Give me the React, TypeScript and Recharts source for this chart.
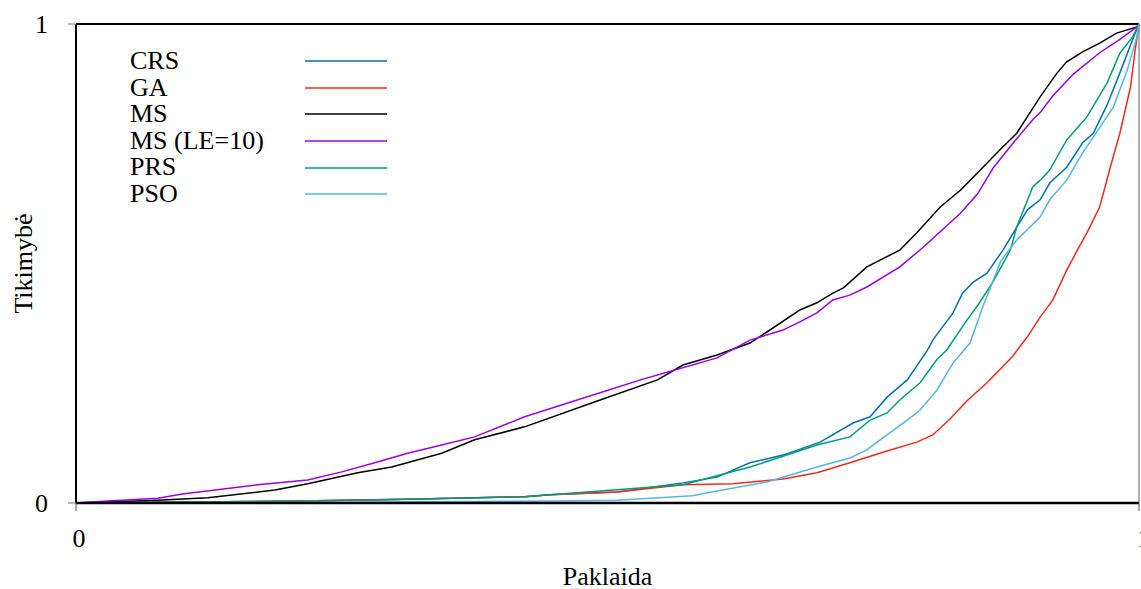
import { CartesianGrid, Label, Legend, Line, LineChart, ReferenceLine, XAxis, YAxis } from "recharts";

// empirical distribution of the error, [paklaida, tikimybe]
const crs: [number, number][] = [
  [0, 0], [0.1, 0.002], [0.211, 0.004], [0.312, 0.008], [0.422, 0.013], [0.446, 0.017], [0.509, 0.023],
  [0.571, 0.042], [0.603, 0.054], [0.634, 0.084], [0.665, 0.1], [0.7, 0.127], [0.731, 0.167], [0.747, 0.18],
  [0.763, 0.221], [0.782, 0.257], [0.801, 0.319], [0.806, 0.34], [0.825, 0.397], [0.834, 0.438], [0.844, 0.461],
  [0.857, 0.48], [0.872, 0.528], [0.895, 0.612], [0.907, 0.633], [0.916, 0.668], [0.932, 0.701], [0.947, 0.752],
  [0.957, 0.772], [0.97, 0.831], [0.982, 0.898], [0.994, 0.967], [1, 1],
];
const ga: [number, number][] = [
  [0, 0], [0.211, 0.004], [0.312, 0.008], [0.422, 0.013], [0.446, 0.017], [0.509, 0.023], [0.571, 0.038],
  [0.618, 0.04], [0.665, 0.05], [0.697, 0.063], [0.728, 0.084], [0.759, 0.106], [0.791, 0.127], [0.806, 0.142],
  [0.822, 0.175], [0.838, 0.213], [0.857, 0.251], [0.881, 0.306], [0.895, 0.347], [0.907, 0.388], [0.919, 0.424],
  [0.932, 0.486], [0.942, 0.528], [0.951, 0.564], [0.963, 0.618], [0.973, 0.701], [0.982, 0.772], [0.992, 0.868],
  [0.996, 0.939], [1, 1],
];
const ms: [number, number][] = [
  [0, 0], [0.077, 0.006], [0.124, 0.011], [0.187, 0.027], [0.218, 0.04], [0.265, 0.063], [0.297, 0.075],
  [0.344, 0.104], [0.375, 0.132], [0.422, 0.159], [0.493, 0.215], [0.547, 0.257], [0.571, 0.288], [0.603, 0.309],
  [0.634, 0.334], [0.65, 0.357], [0.681, 0.403], [0.697, 0.418], [0.712, 0.438], [0.722, 0.449], [0.744, 0.493],
  [0.775, 0.528], [0.791, 0.564], [0.813, 0.618], [0.832, 0.653], [0.848, 0.689], [0.869, 0.737], [0.885, 0.772],
  [0.907, 0.848], [0.923, 0.898], [0.932, 0.921], [0.947, 0.942], [0.963, 0.96], [0.979, 0.981], [0.998, 0.994],
  [1, 1],
];
const msLe10: [number, number][] = [
  [0, 0], [0.03, 0.004], [0.077, 0.01], [0.1, 0.019], [0.131, 0.027], [0.171, 0.038], [0.218, 0.048],
  [0.25, 0.065], [0.281, 0.084], [0.312, 0.104], [0.344, 0.121], [0.375, 0.138], [0.422, 0.18], [0.493, 0.23],
  [0.531, 0.257], [0.556, 0.273], [0.603, 0.303], [0.634, 0.34], [0.665, 0.361], [0.681, 0.378], [0.697, 0.397],
  [0.712, 0.424], [0.728, 0.434], [0.744, 0.451], [0.775, 0.493], [0.797, 0.534], [0.832, 0.605], [0.848, 0.645],
  [0.863, 0.7], [0.881, 0.75], [0.9, 0.8], [0.907, 0.815], [0.919, 0.85], [0.938, 0.895], [0.963, 0.94],
  [0.982, 0.968], [0.998, 0.994], [1, 1],
];
const prs: [number, number][] = [
  [0, 0], [0.1, 0.002], [0.211, 0.004], [0.312, 0.008], [0.422, 0.013], [0.446, 0.017], [0.571, 0.038],
  [0.634, 0.075], [0.697, 0.121], [0.728, 0.138], [0.747, 0.173], [0.763, 0.188], [0.775, 0.215], [0.794, 0.251],
  [0.81, 0.3], [0.819, 0.319], [0.836, 0.375], [0.85, 0.418], [0.863, 0.463], [0.879, 0.528], [0.885, 0.576],
  [0.9, 0.66], [0.907, 0.674], [0.916, 0.695], [0.932, 0.758], [0.951, 0.806], [0.97, 0.877], [0.982, 0.939],
  [0.994, 0.973], [1, 1],
];
const pso: [number, number][] = [
  [0, 0], [0.3, 0.002], [0.446, 0.004], [0.509, 0.006], [0.58, 0.015], [0.603, 0.025], [0.65, 0.044],
  [0.697, 0.075], [0.728, 0.094], [0.744, 0.111], [0.759, 0.136], [0.782, 0.173], [0.794, 0.194], [0.81, 0.236],
  [0.825, 0.292], [0.841, 0.334], [0.853, 0.409], [0.87, 0.505], [0.885, 0.549], [0.907, 0.597], [0.916, 0.633],
  [0.932, 0.674], [0.947, 0.731], [0.957, 0.764], [0.976, 0.827], [0.989, 0.904], [0.998, 0.973], [1, 1],
];

const seriesNames = ["CRS", "GA", "MS", "MS (LE=10)", "PRS", "PSO"];
const seriesData = [crs, ga, ms, msLe10, prs, pso];
const seriesColors = ["#0072B2", "#F5291B", "#000000", "#9B00E8", "#009E73", "#56B4E9"];

const xTicks = [0, 1];
const yTicks = [0, 1];

const FONT = "'Liberation Serif', 'Times New Roman', serif";

function XTick({ x, y, payload }: any) {
  // the right "1" sits past the frame edge and is cut off
  const shift = payload.value === 1 ? 7 : 3;
  return (
    <text x={x + shift} y={y} dy="0.71em" textAnchor="middle" fontSize={26} fontFamily={FONT} fill="#000">
      {payload.value}
    </text>
  );
}

function LegendBox() {
  return (
    <div style={{ fontFamily: FONT, fontSize: 26, lineHeight: "26.6px", color: "#000" }}>
      {seriesNames.map((name, i) => (
        <div key={name} style={{ display: "flex", alignItems: "center", height: 26.6 }}>
          <span style={{ width: 175, whiteSpace: "nowrap" }}>{name}</span>
          <svg width={82} height={4}>
            <line x1={0} y1={2} x2={82} y2={2} stroke={seriesColors[i]} strokeWidth={1.5} />
          </svg>
        </div>
      ))}
    </div>
  );
}

function YTitle({ viewBox }: any) {
  const cy = viewBox.y + viewBox.height / 2;
  return (
    <text
      x={23}
      y={cy}
      transform={`rotate(-90, 23, ${cy})`}
      textAnchor="middle"
      dominantBaseline="central"
      fontSize={26}
      fontFamily={FONT}
      fill="#000"
    >
      Tikimybė
    </text>
  );
}

export default function App() {
  return (
    <div style={{ position: "absolute", left: 0, top: 0, background: "#fff", fontFamily: FONT }}>
      <LineChart width={1141} height={589} margin={{ top: 24, right: 2, left: 0, bottom: 0 }}>
        <CartesianGrid stroke="none" />
        <XAxis
          dataKey="e"
          type="number"
          domain={[0, 1]}
          ticks={xTicks}
          height={86}
          tickSize={8}
          tickMargin={18}
          tick={<XTick />}
          axisLine={{ stroke: "#000", strokeWidth: 2.5 }}
          tickLine={{ stroke: "#555" }}
          allowDuplicatedCategory={false}
        >
          <Label value="Paklaida" position="insideBottom" offset={4} fontSize={26} fontFamily={FONT} fill="#000" />
        </XAxis>
        <YAxis
          type="number"
          domain={[0, 1]}
          ticks={yTicks}
          width={76}
          tickSize={8}
          tickMargin={20}
          tick={{ fontSize: 26, fontFamily: FONT, fill: "#000" }}
          axisLine={{ stroke: "#000", strokeWidth: 2 }}
          tickLine={{ stroke: "#777" }}
        >
          <Label content={<YTitle />} />
        </YAxis>
        <ReferenceLine y={1} stroke="#000" strokeWidth={2} />
        <ReferenceLine x={1} stroke="#999" strokeWidth={1.5} />
        <Legend
          layout="vertical"
          align="center"
          verticalAlign="middle"
          content={<LegendBox />}
          wrapperStyle={{ position: "absolute", left: 130, top: 48, width: 270 }}
        />
        {seriesNames.map((name, i) => (
          <Line
            key={name}
            name={name}
            data={seriesData[i].map(([e, p]) => ({ e, p }))}
            dataKey="p"
            type="linear"
            stroke={seriesColors[i]}
            strokeWidth={1.5}
            dot={false}
            activeDot={false}
            isAnimationActive={false}
          />
        ))}
      </LineChart>
    </div>
  );
}
